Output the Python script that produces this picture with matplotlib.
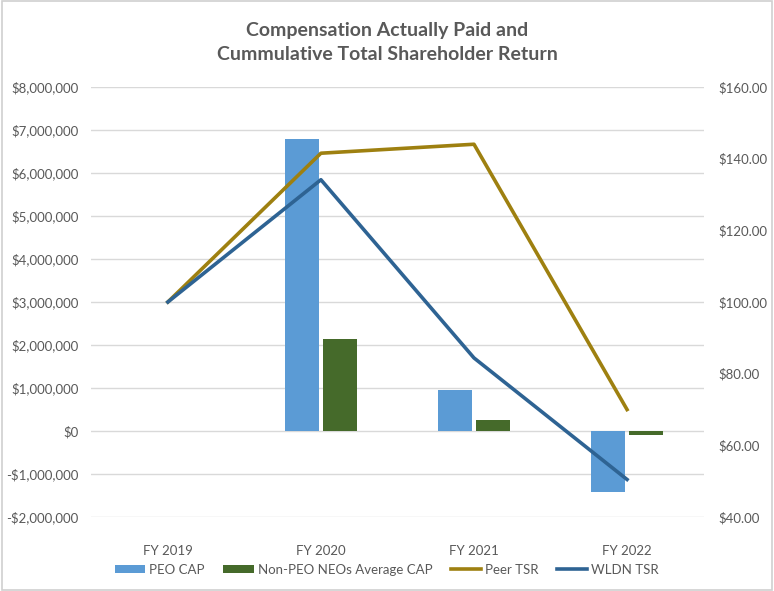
import matplotlib.pyplot as plt
import numpy as np
from matplotlib.patches import Rectangle
from matplotlib.ticker import FuncFormatter

years = ["FY 2019", "FY 2020", "FY 2021", "FY 2022"]
peo_cap = [0, 6800000, 950000, -1410000]
neo_cap = [0, 2130000, 260000, -80000]
peer_tsr = [100.0, 141.5, 144.0, 70.0]
wldn_tsr = [100.0, 134.1, 84.4, 50.5]

plt.rcParams['font.family'] = ['Lato', 'DejaVu Sans']
txt = '#595959'

fig = plt.figure(figsize=(7.74, 5.91), dpi=100)
ax = fig.add_axes([0.118, 0.125, 0.791, 0.728])
ax2 = ax.twinx()

x = np.arange(len(years))
w = 0.22
ax.bar(x - 0.125, peo_cap, w, color='#5B9BD5', label='PEO CAP', zorder=2)
ax.bar(x + 0.125, neo_cap, w, color='#456A2A', label='Non-PEO NEOs Average CAP', zorder=2)
ax2.plot(x, peer_tsr, color='#9E8010', lw=2.6, label='Peer TSR')
ax2.plot(x, wldn_tsr, color='#2E6393', lw=2.6, label='WLDN TSR')

ax.set_xlim(-0.5, 3.5)
ax.set_ylim(-2000000, 8000000)
ax.set_yticks(np.arange(-2000000, 8000001, 1000000))
ax.yaxis.set_major_formatter(FuncFormatter(lambda v, p: ('-$' if v < 0 else '$') + f"{abs(int(v)):,}"))
ax2.set_ylim(40, 160)
ax2.set_yticks(np.arange(40, 161, 20))
ax2.yaxis.set_major_formatter(FuncFormatter(lambda v, p: f"${v:.2f}"))
ax.set_xticks(x)
ax.set_xticklabels(years)

ax.grid(axis='y', color='#D9D9D9', lw=1, zorder=0)
for a in (ax, ax2):
    for s in a.spines.values():
        s.set_visible(False)
    a.tick_params(length=0, colors=txt, labelsize=9.5)
ax.tick_params(axis='x', pad=20)
ax.tick_params(axis='y', pad=9)
ax2.tick_params(axis='y', pad=11)

fig.suptitle("Compensation Actually Paid and\nCummulative Total Shareholder Return",
             y=0.963, fontsize=14, fontweight='bold', color=txt, linespacing=1.5)

h1, l1 = ax.get_legend_handles_labels()
h2, l2 = ax2.get_legend_handles_labels()
fig.legend(h1 + h2, l1 + l2, loc='center', bbox_to_anchor=(0.5, 0.036), ncol=4,
           frameon=False, fontsize=9.5, labelcolor=txt, handlelength=2.3,
           handleheight=0.6, columnspacing=1.4, handletextpad=0.3)

fig.patches.append(Rectangle((0.002, 0.002), 0.996, 0.996, transform=fig.transFigure,
                             fill=False, edgecolor='#D0D0D0', lw=1.2))

plt.savefig("out.png", dpi=100)
